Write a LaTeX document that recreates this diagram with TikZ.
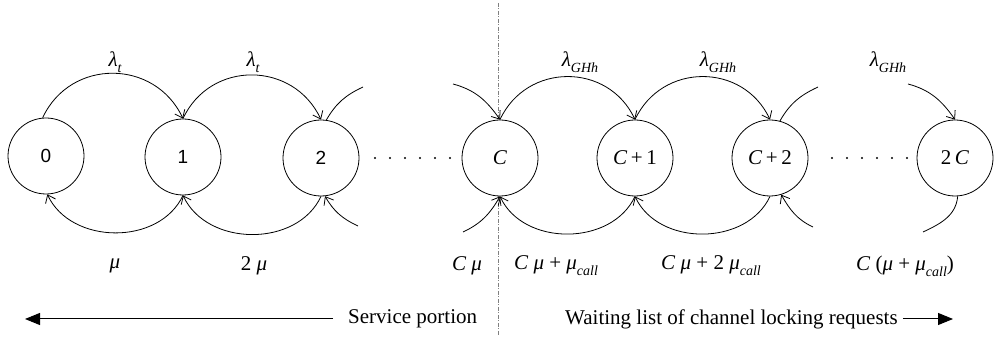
\documentclass[tikz,border=0pt]{standalone}
\usepackage{fontspec}
\setmainfont{Liberation Serif}
\newfontfamily\arialf{Liberation Sans}
\usetikzlibrary{arrows.meta}
\newcommand{\lsub}[1]{\raisebox{-0.28em}{\fontsize{14}{14}\selectfont\itshape #1}}
\newcommand{\lam}{\textit{λ}}
\newcommand{\mmu}{\textit{μ}}
\begin{document}
\begin{tikzpicture}[x=1pt,y=1pt,
  st/.style={circle,draw,line width=0.8pt,minimum size=76pt,inner sep=0pt,fill=white,font=\fontsize{21}{24}\selectfont},
  lab/.style={inner sep=0pt,font=\fontsize{21}{24}\selectfont},
  arr/.style={line width=0.8pt,-{Straight Barb[length=7pt,width=11pt]}},
  pl/.style={line width=0.8pt},
  vline/.style={line width=0.6pt,gray,dash pattern=on 4pt off 1.5pt on 1pt off 1.5pt},
  big/.style={line width=1pt,-{Triangle[length=15pt,width=12pt]}},
  dotn/.style={circle,fill=black,inner sep=0pt,minimum size=2.2pt}
]
\useasboundingbox (0,0) rectangle (995,339);
% vertical separator
\coordinate (vt) at (498,336);
\coordinate (vb) at (498,3);
\draw[vline] (vt) -- (vb);
% states
\node[st] (n0) at (46,183) {\arialf\fontsize{19}{22}\selectfont 0};
\node[st] (n1) at (183,182) {\arialf\fontsize{19}{22}\selectfont 1};
\node[st] (n2) at (321,181) {\arialf\fontsize{19}{22}\selectfont 2};
\node[st] (nC) at (500,181) {\textit{C}};
\node[st] (nC1) at (635,181) {\textit{C}\,+\,1};
\node[st] (nC2) at (770,181) {\textit{C}\,+\,2};
\node[st] (n2C) at (955,181) {2\,\textit{C}};
% dots
\foreach \i/\x in {1/375,2/390,3/405,4/420,5/435,6/450} \node[dotn] (da\i) at (\x,181) {};
\foreach \i/\x in {1/832,2/847,3/862,4/877,5/892,6/907} \node[dotn] (db\i) at (\x,181) {};
% free ends
\coordinate (p2t) at (363,252);
\coordinate (pCt) at (453,255);
\coordinate (pC2t) at (818,252);
\coordinate (p2Ct) at (908,255);
\coordinate (p2b) at (358,113);
\coordinate (pCb) at (463,107);
\coordinate (pC2b) at (813,112);
\coordinate (p2Cb) at (923,107);
% top arcs
\draw[arr] (n0.95) to[out=65,in=115,looseness=1.2] (n1.90);
\draw[arr] (n1.90) to[out=65,in=115,looseness=1.2] (n2.90);
\draw[pl] (n2.82) to[out=60,in=205] (p2t);
\draw[arr] (pCt) to[out=-15,in=125] (nC.90);
\draw[arr] (nC.90) to[out=65,in=115,looseness=1.2] (nC1.90);
\draw[arr] (nC1.90) to[out=65,in=115,looseness=1.2] (nC2.90);
\draw[pl] (nC2.75) to[out=60,in=205] (pC2t);
\draw[arr] (p2Ct) to[out=-15,in=125] (n2C.90);
% bottom arcs
\draw[arr] (n1.270) to[out=-115,in=-65,looseness=1.05] (n0.272);
\draw[arr] (n2.270) to[out=-115,in=-65,looseness=1.05] (n1.270);
\draw[arr] (p2b) to[out=155,in=-60] (n2.-84);
\draw[arr] (pCb) to[out=25,in=-120] (nC.270);
\draw[arr] (nC1.270) to[out=-115,in=-65,looseness=1.05] (nC.270);
\draw[arr] (nC2.270) to[out=-115,in=-65,looseness=1.05] (nC1.270);
\draw[arr] (pC2b) to[out=155,in=-60] (nC2.-73);
\draw[pl] (n2C.-86) to[out=-95,in=25] (p2Cb);
% rate labels
\node[lab] (l1) at (115,277) {\lam\lsub{t}};
\node[lab] (l2) at (253,277) {\lam\lsub{t}};
\node[lab] (l3) at (580,277) {\lam\lsub{GHh}};
\node[lab] (l4) at (718,277) {\lam\lsub{GHh}};
\node[lab] (l5) at (888,277) {\lam\lsub{GHh}};
\node[lab] (m1) at (115,73) {\mmu};
\node[lab] (m2) at (254,73) {2 \mmu};
\node[lab] (m3) at (467,73) {\textit{C} \mmu};
\node[lab] (m4) at (556,73) {\textit{C} \mmu\ + \mmu\lsub{call}};
\node[lab] (m5) at (711,73) {\textit{C} \mmu\ + 2 \mmu\lsub{call}};
\node[lab] (m6) at (905,73) {\textit{C} (\mmu\ + \mmu\lsub{call})};
% bottom captions
\node[lab,anchor=west] (sp) at (348,20) {Service portion};
\coordinate (la) at (25,20);
\draw[big] ([xshift=-15pt]sp.west) -- (la);
\node[lab,anchor=west] (wl) at (565,20) {Waiting list of channel locking requests};
\coordinate (ra) at (953,20);
\draw[big] ([xshift=5pt]wl.east) -- (ra);
\end{tikzpicture}
\end{document}
